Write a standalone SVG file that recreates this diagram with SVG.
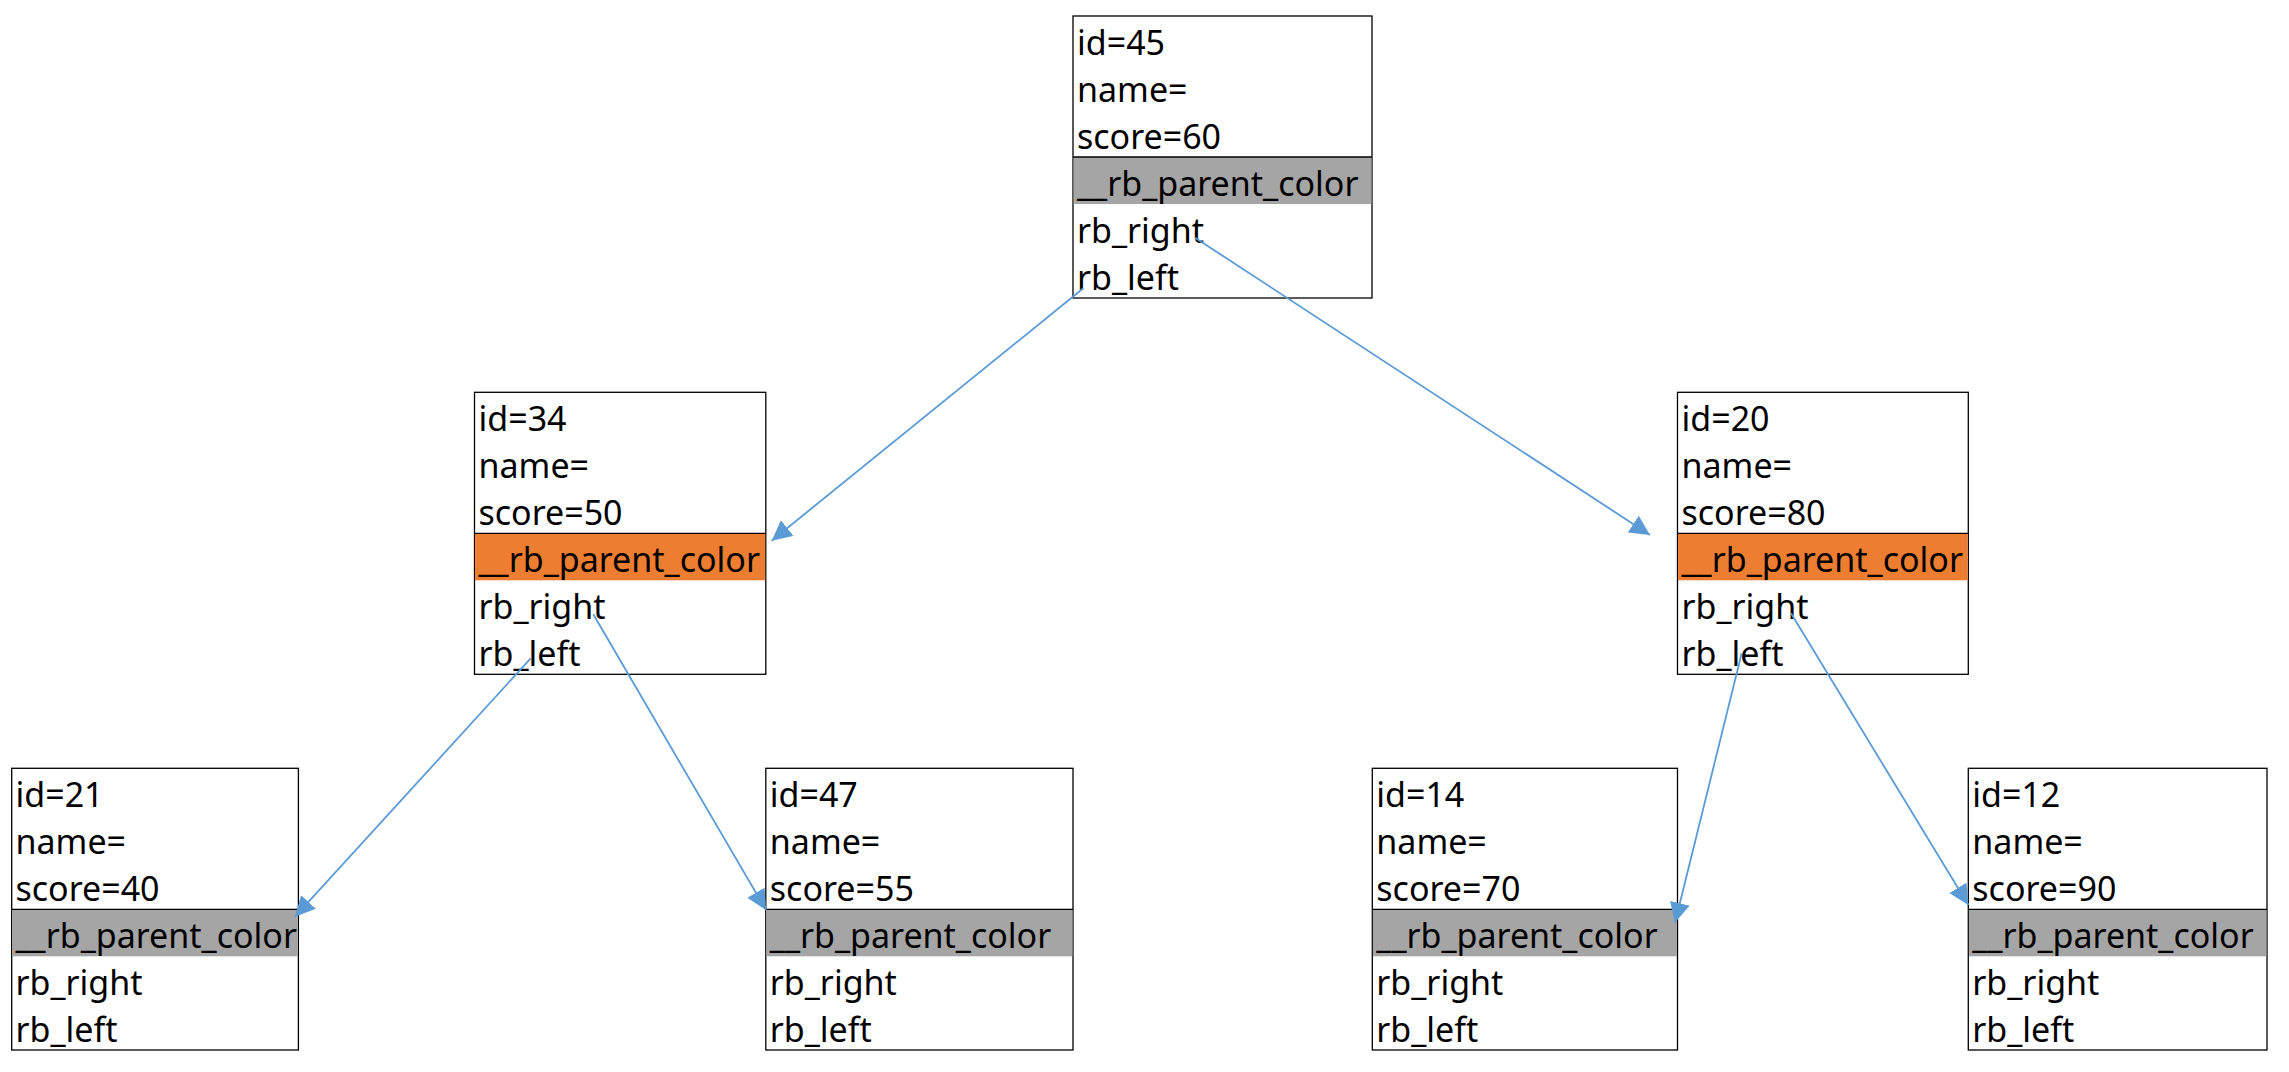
<svg xmlns="http://www.w3.org/2000/svg" width="2289" height="1072" viewBox="0 0 2289 1072">
<style>
.box{fill:#ffffff;stroke:#000000;stroke-width:1.3}
.gray{fill:#A5A5A5}
.orange{fill:#ED7D31}
.div{stroke:#000000;stroke-width:1.3}
.t{font-family:"Noto Sans","Open Sans","Liberation Sans",sans-serif;font-size:34px;fill:#000000}
.edge{stroke:#5B9BD5;stroke-width:1.8;fill:none;marker-end:url(#arr)}
</style>
<defs>
<marker id="arr" markerUnits="userSpaceOnUse" markerWidth="22" markerHeight="22" refX="20" refY="10" orient="auto">
<path d="M0,0 L20,10 L0,20 z" fill="#5B9BD5"/>
</marker>
</defs>
<rect width="2289" height="1072" fill="#ffffff"/>

<g id="n45">
<rect class="box" x="1073" y="16" width="299" height="282"/>
<rect class="gray" x="1073.6" y="157" width="297.8" height="47"/>
<line class="div" x1="1073" y1="157" x2="1372" y2="157"/>
<text class="t" x="1077" y="55">id=45</text>
<text class="t" x="1077" y="102">name=</text>
<text class="t" x="1077" y="149">score=60</text>
<text class="t" x="1077" y="196">__rb_parent_color</text>
<text class="t" x="1077" y="243">rb_right</text>
<text class="t" x="1077" y="290">rb_left</text>
</g>

<g id="n34">
<rect class="box" x="474.5" y="392.3" width="291.3" height="282"/>
<rect class="orange" x="475.1" y="533.3" width="290.1" height="47"/>
<line class="div" x1="474.5" y1="533.3" x2="765.8" y2="533.3"/>
<text class="t" x="478.5" y="431.3">id=34</text>
<text class="t" x="478.5" y="478.3">name=</text>
<text class="t" x="478.5" y="525.3">score=50</text>
<text class="t" x="478.5" y="572.3">__rb_parent_color</text>
<text class="t" x="478.5" y="619.3">rb_right</text>
<text class="t" x="478.5" y="666.3">rb_left</text>
</g>

<g id="n20">
<rect class="box" x="1677.5" y="392.3" width="290.8" height="282"/>
<rect class="orange" x="1678.1" y="533.3" width="289.6" height="47"/>
<line class="div" x1="1677.5" y1="533.3" x2="1968.3" y2="533.3"/>
<text class="t" x="1681.5" y="431.3">id=20</text>
<text class="t" x="1681.5" y="478.3">name=</text>
<text class="t" x="1681.5" y="525.3">score=80</text>
<text class="t" x="1681.5" y="572.3">__rb_parent_color</text>
<text class="t" x="1681.5" y="619.3">rb_right</text>
<text class="t" x="1681.5" y="666.3">rb_left</text>
</g>

<g id="n21">
<rect class="box" x="11.7" y="768.3" width="286.7" height="281.7"/>
<rect class="gray" x="12.3" y="909.3" width="285.5" height="47"/>
<line class="div" x1="11.7" y1="909.3" x2="298.4" y2="909.3"/>
<text class="t" x="15.5" y="807.3">id=21</text>
<text class="t" x="15.5" y="854.3">name=</text>
<text class="t" x="15.5" y="901.3">score=40</text>
<text class="t" x="15.5" y="948.3">__rb_parent_color</text>
<text class="t" x="15.5" y="995.3">rb_right</text>
<text class="t" x="15.5" y="1042.3">rb_left</text>
</g>

<g id="n47">
<rect class="box" x="765.8" y="768.3" width="307.2" height="281.7"/>
<rect class="gray" x="766.4" y="909.3" width="306" height="47"/>
<line class="div" x1="765.8" y1="909.3" x2="1073" y2="909.3"/>
<text class="t" x="769.8" y="807.3">id=47</text>
<text class="t" x="769.8" y="854.3">name=</text>
<text class="t" x="769.8" y="901.3">score=55</text>
<text class="t" x="769.8" y="948.3">__rb_parent_color</text>
<text class="t" x="769.8" y="995.3">rb_right</text>
<text class="t" x="769.8" y="1042.3">rb_left</text>
</g>

<g id="n14">
<rect class="box" x="1372.3" y="768.3" width="305.2" height="281.7"/>
<rect class="gray" x="1372.9" y="909.3" width="304" height="47"/>
<line class="div" x1="1372.3" y1="909.3" x2="1677.5" y2="909.3"/>
<text class="t" x="1376.3" y="807.3">id=14</text>
<text class="t" x="1376.3" y="854.3">name=</text>
<text class="t" x="1376.3" y="901.3">score=70</text>
<text class="t" x="1376.3" y="948.3">__rb_parent_color</text>
<text class="t" x="1376.3" y="995.3">rb_right</text>
<text class="t" x="1376.3" y="1042.3">rb_left</text>
</g>

<g id="n12">
<rect class="box" x="1968.3" y="768.3" width="298.7" height="281.7"/>
<rect class="gray" x="1968.9" y="909.3" width="297.5" height="47"/>
<line class="div" x1="1968.3" y1="909.3" x2="2267" y2="909.3"/>
<text class="t" x="1972.3" y="807.3">id=12</text>
<text class="t" x="1972.3" y="854.3">name=</text>
<text class="t" x="1972.3" y="901.3">score=90</text>
<text class="t" x="1972.3" y="948.3">__rb_parent_color</text>
<text class="t" x="1972.3" y="995.3">rb_right</text>
<text class="t" x="1972.3" y="1042.3">rb_left</text>
</g>

<g id="connectors">
<line class="edge" x1="1083.3" y1="288.3" x2="771.7" y2="540.7"/>
<line class="edge" x1="1195" y1="237.7" x2="1650" y2="535"/>
<line class="edge" x1="530.7" y1="658.3" x2="295" y2="916.7"/>
<line class="edge" x1="593.3" y1="614.3" x2="766" y2="910"/>
<line class="edge" x1="1741.7" y1="653.3" x2="1675" y2="922.7"/>
<line class="edge" x1="1791" y1="613.3" x2="1968.3" y2="905"/>
</g>
</svg>
